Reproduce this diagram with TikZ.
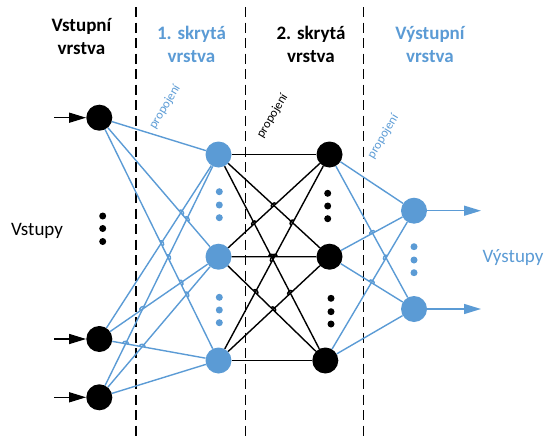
\documentclass[tikz,border=0pt]{standalone}
\usepackage{fontspec}
\setmainfont{Carlito}
\usetikzlibrary{arrows.meta,calc,intersections}
\definecolor{netblue}{HTML}{5B9BD5}

\tikzset{
  neuron/.style={circle, minimum size=26pt, inner sep=0pt, draw=none},
  blackneuron/.style={neuron, fill=black},
  blueneuron/.style={neuron, fill=netblue},
  ellipsisdot/.style={circle, minimum size=7pt, inner sep=0pt, draw=none},
  layersep/.style={line width=1.8pt, dash pattern=on 10pt off 5.5pt},
  bluelink/.style={draw=netblue, line width=1.4pt},
  blacklink/.style={draw=black, line width=1.4pt},
  layertitle/.style={font=\bfseries\fontsize{19}{23}\selectfont, align=center, anchor=base},
  linklabel/.style={font=\fontsize{12.5}{14}\selectfont, rotate=59, inner sep=0pt},
  ioarrow/.style={line width=1.4pt, -{Triangle[length=17pt,width=10pt]}},
}

% Connector with small hops where it crosses the lines collected in path #4
\newcommand\hoprad{3pt}
\newcommand\hopline[4]{%
  \edef\hopsrc{#2}\edef\hopdst{#3}%
  \path[name path=hopcur] (\hopsrc) -- (\hopdst);
  \path[name intersections={of=hopcur and #4, sort by=hopcur, name=X, total=\hopn}]
    \pgfextra{\xdef\hopcount{\hopn}};
  \ifnum\hopcount=0
    \draw[#1] (\hopsrc) -- (\hopdst);
  \else
    \draw[#1] (\hopsrc)
      \foreach \hopi in {1,...,\hopcount} {
        -- ($(X-\hopi)!\hoprad!(\hopsrc)$)
        to[bend left=90, looseness=1.4] ($(X-\hopi)!\hoprad!(\hopdst)$)
      } -- (\hopdst);
  \fi
}

\begin{document}
\begin{tikzpicture}[x=1pt, y=-1pt]
  \useasboundingbox (0,0) rectangle (546,439);

  % layer separators
  \draw[layersep] (136,7) -- (136,439);
  \draw[layersep] (245.5,7) -- (245.5,439);
  \draw[layersep] (363.5,7) -- (363.5,439);

  % layer titles (anchored at the baseline of the second line)
  \node[layertitle] (t1) at (81.5,54.5) {Vstupní\\vrstva};
  \node[layertitle, text=netblue] (t2) at (191.5,62.5) {1. skrytá\\vrstva};
  \node[layertitle] (t3) at (311,62.5) {2. skrytá\\vrstva};
  \node[layertitle, text=netblue] (t4) at (430,62.5) {Výstupní\\vrstva};

  % neurons
  \node[blackneuron] (i1) at (99.3,117.7) {};
  \node[blackneuron] (i2) at (99.3,339) {};
  \node[blackneuron] (i3) at (99.3,397.3) {};
  \node[blueneuron] (h1) at (218.5,154.5) {};
  \node[blueneuron] (h2) at (218.5,256.7) {};
  \node[blueneuron] (h3) at (218.5,360.5) {};
  \node[blackneuron] (k1) at (329.5,154.5) {};
  \node[blackneuron] (k2) at (329.5,256.7) {};
  \node[blackneuron] (k3) at (325.3,360.5) {};
  \node[blueneuron] (o1) at (414,210.7) {};
  \node[blueneuron] (o2) at (414,309) {};

  % ellipsis dots
  \foreach \y [count=\n] in {216,228.5,241.5}
    \node[ellipsisdot, fill=black] (di\n) at (102.7,\y) {};
  \foreach \y [count=\n] in {191.7,205,217.7,297.3,310,322.7}
    \node[ellipsisdot, fill=netblue] (dh\n) at (219.3,\y) {};
  \foreach \y [count=\n] in {193.3,206,218.7}
    \node[ellipsisdot, fill=black] (dk\n) at (327.7,\y) {};
  \foreach \y [count=\n] in {298.3,311.7,324}
    \node[ellipsisdot, fill=black] (dl\n) at (331,\y) {};
  \foreach \y [count=\n] in {246.7,260,272.7}
    \node[ellipsisdot, fill=netblue] (do\n) at (414,\y) {};

  % input layer -> first hidden layer
  \path[name path=blueA] (i3) -- (h1) (i3) -- (h2) (i3) -- (h3);
  \path[name path=blueB] (i3) -- (h1) (i3) -- (h2) (i3) -- (h3)
                         (i2) -- (h1) (i2) -- (h2) (i2) -- (h3);
  \foreach \tgt in {h1,h2,h3} \draw[bluelink] (i3) -- (\tgt);
  \foreach \tgt in {h1,h2,h3} {\hopline{bluelink}{i2}{\tgt}{blueA}}
  \foreach \tgt in {h1,h2,h3} {\hopline{bluelink}{i1}{\tgt}{blueB}}

  % first hidden layer -> second hidden layer
  \path[name path=blackA] (h1) -- (k1) (h1) -- (k2) (h1) -- (k3);
  \path[name path=blackB] (h1) -- (k1) (h1) -- (k2) (h1) -- (k3)
                          (h3) -- (k1) (h3) -- (k2) (h3) -- (k3);
  \foreach \tgt in {k1,k2,k3} \draw[blacklink] (h1) -- (\tgt);
  \foreach \tgt in {k1,k2,k3} {\hopline{blacklink}{h3}{\tgt}{blackA}}
  \foreach \tgt in {k1,k2,k3} {\hopline{blacklink}{h2}{\tgt}{blackB}}

  % second hidden layer -> output layer
  \path[name path=outA] (k1) -- (o1) (k1) -- (o2);
  \path[name path=outB] (k1) -- (o1) (k1) -- (o2) (k3) -- (o1) (k3) -- (o2);
  \foreach \tgt in {o1,o2} \draw[bluelink] (k1) -- (\tgt);
  \foreach \tgt in {o1,o2} {\hopline{bluelink}{k3}{\tgt}{outA}}
  \foreach \tgt in {o1,o2} {\hopline{bluelink}{k2}{\tgt}{outB}}

  % inputs and outputs
  \coordinate (in1) at (54,117.7);
  \coordinate (in2) at (54,339);
  \coordinate (in3) at (54,397.3);
  \coordinate (out1) at (481,210.7);
  \coordinate (out2) at (481,309);
  \draw[ioarrow] (in1) -- (i1);
  \draw[ioarrow] (in2) -- (i2);
  \draw[ioarrow] (in3) -- (i3);
  \draw[ioarrow, netblue] (o1) -- (out1);
  \draw[ioarrow, netblue] (o2) -- (out2);

  \node[font=\fontsize{19}{22}\selectfont] (vin) at (37,231) {Vstupy};
  \node[font=\fontsize{19}{22}\selectfont, text=netblue] (vout) at (513,258) {Výstupy};

  % connection labels
  \node[linklabel, text=netblue] (p1) at (165,107) {propojení};
  \node[linklabel] (p2) at (272.5,116) {propojení};
  \node[linklabel, text=netblue] (p3) at (383.3,136.7) {propojení};
\end{tikzpicture}
\end{document}
